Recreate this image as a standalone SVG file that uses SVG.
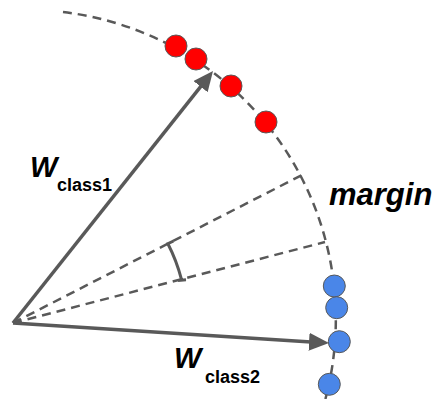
<svg xmlns="http://www.w3.org/2000/svg" width="437" height="399" viewBox="0 0 437 399">
<style>
.dash{fill:none;stroke:#595959;stroke-width:2.5;stroke-dasharray:9,6}
.vec{fill:none;stroke:#595959;stroke-width:3.5}
.red{fill:#ff0000;stroke:#595959;stroke-width:1}
.blue{fill:#4a86e8;stroke:#595959;stroke-width:1}
.big{font-family:"Liberation Sans",Arial,sans-serif;font-weight:bold;font-style:italic;fill:#000}
.sub{font-family:"Liberation Sans",Arial,sans-serif;font-weight:bold;font-size:18px;fill:#000}
</style>
<defs>
<marker id="ah" viewBox="0 0 20 18" refX="10" refY="9" markerWidth="20" markerHeight="18" markerUnits="userSpaceOnUse" orient="auto">
<path d="M0,0 L20,9 L0,18 Z" fill="#595959"/>
</marker>
</defs>
<rect width="437" height="399" fill="#fff"/>
<g id="guides">
<path class="dash" d="M63 12 A309.5 309.5 0 0 1 325.4 399"/>
<path class="dash" d="M13 323 L302 175"/>
<path class="dash" d="M13 323 L325 242"/>
<path fill="none" stroke="#595959" stroke-width="3" d="M173.5 241 L167.9 243.7 A174 174 0 0 1 181.4 279.1 M178 280.5 L186 279.8"/>
</g>
<g id="connectors">
<line class="vec" x1="13" y1="323" x2="206.8" y2="78.8" marker-end="url(#ah)"/>
<line class="vec" x1="13" y1="323" x2="319" y2="342.4" marker-end="url(#ah)"/>
</g>
<g id="red-points">
<circle class="red" cx="176" cy="46" r="11"/>
<circle class="red" cx="196" cy="59" r="11"/>
<circle class="red" cx="231" cy="86" r="11"/>
<circle class="red" cx="266" cy="122" r="11"/>
</g>
<g id="blue-points">
<circle class="blue" cx="334.3" cy="286" r="11"/>
<circle class="blue" cx="336.7" cy="307.7" r="11"/>
<circle class="blue" cx="339.3" cy="341.7" r="11"/>
<circle class="blue" cx="329.3" cy="384.3" r="11"/>
</g>
<g id="label-w-class1">
<text class="big" x="30" y="177" font-size="29">W</text>
<text class="sub" x="57" y="191">class1</text>
</g>
<g id="label-w-class2">
<text class="big" x="174" y="368" font-size="29">W</text>
<text class="sub" x="205" y="383">class2</text>
</g>
<g id="label-margin">
<text class="big" x="329" y="205" font-size="31">margin</text>
</g>
</svg>
